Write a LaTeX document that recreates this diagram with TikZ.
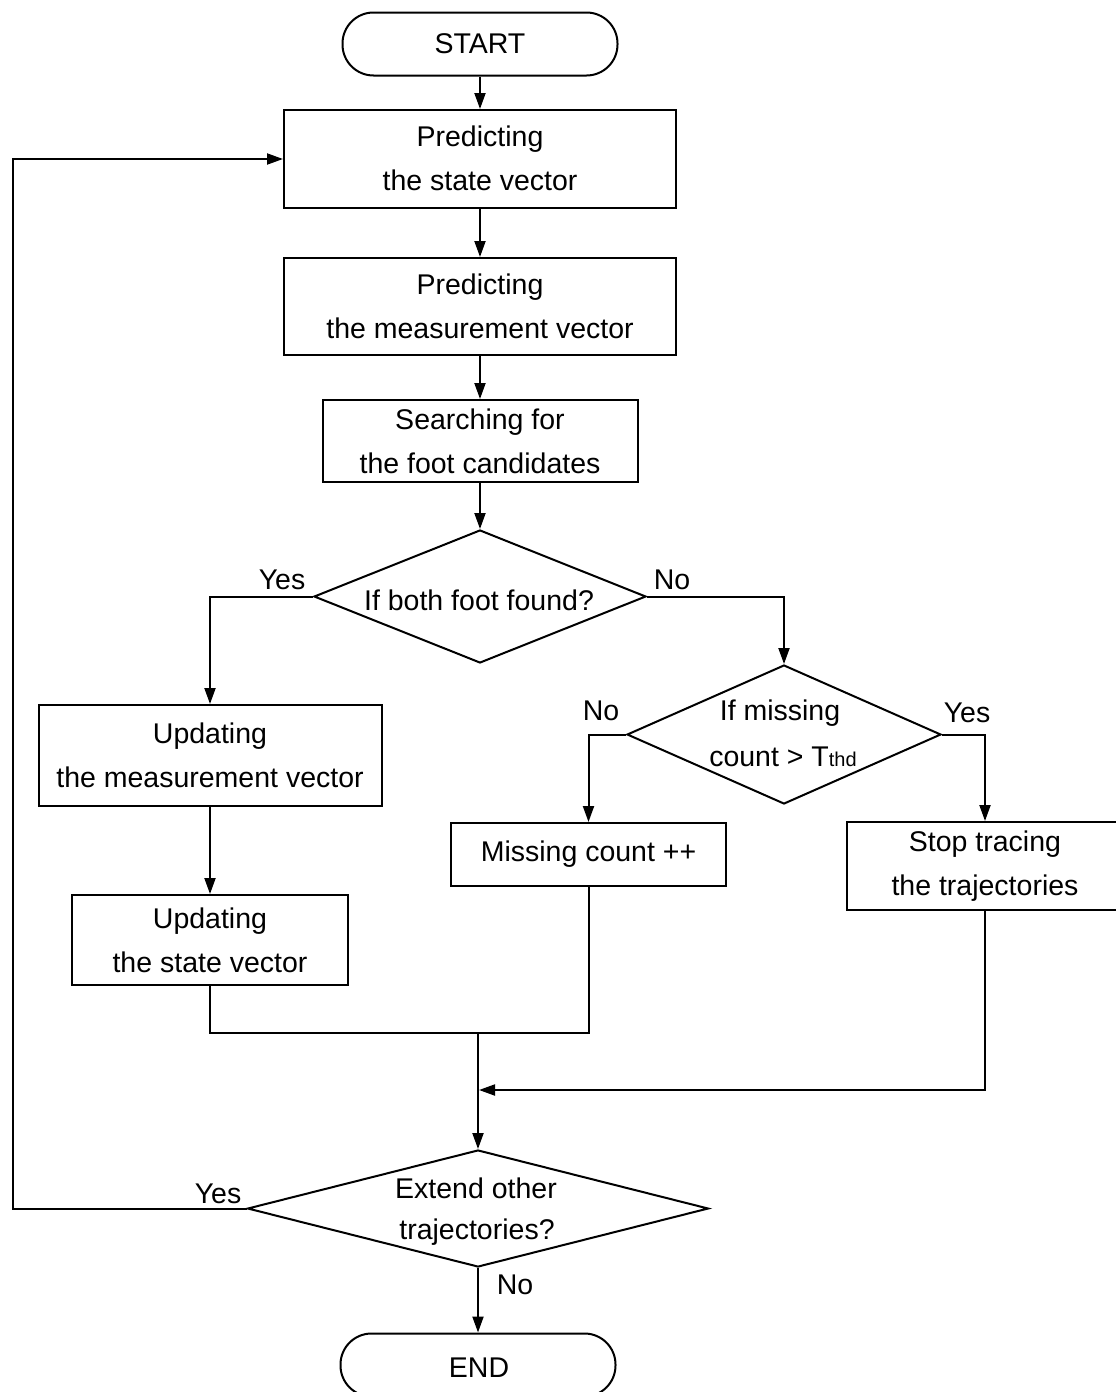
\documentclass[tikz,border=0pt]{standalone}
\usepackage{fontspec}
\setmainfont{Liberation Sans}
\usetikzlibrary{shapes.geometric,arrows.meta}
\begin{document}
\begin{tikzpicture}[x=1pt,y=-1pt,
  every node/.style={font=\fontsize{28.5}{44}\selectfont, inner sep=0pt},
  box/.style={draw, line width=2pt, rectangle, align=center},
  term/.style={draw, line width=2pt, rectangle, rounded corners=31pt, minimum width=275pt, minimum height=63pt},
  dia/.style={draw, line width=2pt, diamond, aspect=2},
  conn/.style={line width=2pt, -{Triangle[length=16pt,width=11pt]}},
  plain/.style={line width=2pt}]
\clip (0,0) rectangle (1116,1392);
\useasboundingbox (0,0) rectangle (1116,1392);
% terminals
\node[term] (start) at (480,44) {START};
\node[term] (end) at (478,1365) {};
\node at (479,1368) {END};
% process boxes
\node[box, minimum width=392pt, minimum height=98pt, text depth=2pt] (p1) at (480,159) {Predicting\\the state vector};
\node[box, minimum width=392pt, minimum height=97pt] (p2) at (480,306.5) {Predicting\\the measurement vector};
\node[box, minimum width=315pt, minimum height=82pt] (sf) at (480,441) {Searching for\\the foot candidates};
\node[box, minimum width=343pt, minimum height=101pt] (u1) at (210,755.5) {Updating\\the measurement vector};
\node[box, minimum width=276pt, minimum height=90pt] (u2) at (210,940) {Updating\\the state vector};
\node[box, minimum width=275pt, minimum height=63pt] (mc) at (588.5,854.5) {Missing count ++};
\node[box, minimum width=276pt, minimum height=88pt] (st) at (985,866) {Stop tracing\\the trajectories};
% decisions
\node[dia, minimum width=332pt, minimum height=133pt] (d1) at (480,596.5) {};
\node at (479,600) {If both foot found?};
\node[dia, minimum width=314pt, minimum height=139pt] (d2) at (784,734.5) {};
\node at (780,713) {If missing};
\node at (783,757) {count > T{\fontsize{20}{20}\selectfont thd}};
\node[dia, minimum width=461pt, minimum height=117pt] (d3) at (478,1208.5) {};
\node at (476,1188) {Extend other};
\node at (477,1232) {trajectories?};
% helper coordinates
\coordinate (j) at (478,1033);
\coordinate (k) at (479,1090);
\coordinate (lc) at (13,159);
% connectors
\draw[conn] (start.south) -- (p1.north);
\draw[conn] (p1.south) -- (p2.north);
\draw[conn] (p2.south) -- (sf.north);
\draw[conn] (sf.south) -- (d1.north);
\draw[conn] (d1.west) -| (u1.north);
\draw[conn] (d1.east) -| (d2.north);
\draw[conn] (d2.west) -| (mc.north);
\draw[conn] (d2.east) -| (st.north);
\draw[conn] (u1.south) -- (u2.north);
\draw[plain] (u2.south) |- (j);
\draw[plain] (mc.south) |- (j);
\draw[conn] (j) -- (d3.north);
\draw[conn] (st.south) |- (k);
\draw[conn] (d3.west) -| (lc) -- (p1.west);
\draw[conn] (d3.south) -- (end.north);
% labels
\node at (282,580) {Yes};
\node at (672,580) {No};
\node at (601,711) {No};
\node at (967,713) {Yes};
\node at (218,1194) {Yes};
\node at (515,1285) {No};
\end{tikzpicture}
\end{document}
